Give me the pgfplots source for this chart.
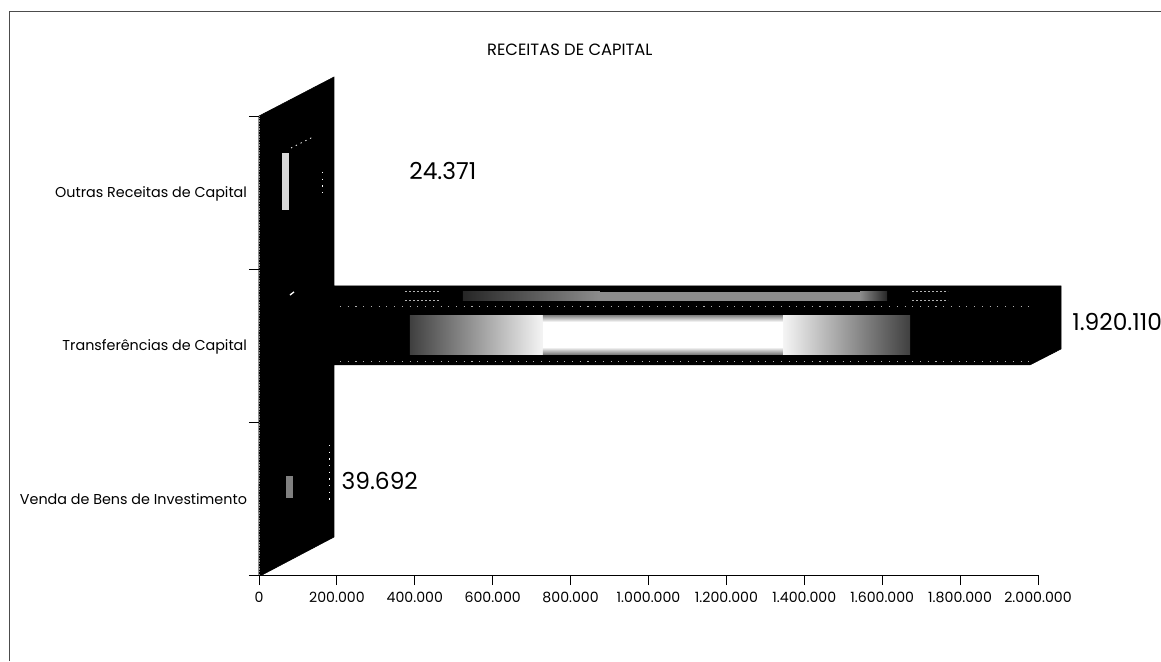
\documentclass[border=0pt]{standalone}
\usepackage{pgfplots}
\pgfplotsset{compat=1.18}
\usepackage{fontspec}
\setmainfont{Poppins}
\begin{document}
\begin{tikzpicture}[x=0.75pt,y=0.75pt]
\path[use as bounding box] (-259,-86) rectangle (902,575);
\draw[black!70,line width=0.7pt] (-250,-86) -- (-250,564) -- (902,564);
\begin{axis}[
  at={(0,0)}, anchor=origin,
  scale only axis, width=584.25pt, height=344.25pt,
  xmin=0, xmax=2000000, ymin=0, ymax=3,
  clip=false,
  axis x line*=bottom, axis y line*=left,
  axis line style={-,black,line width=0.6pt},
  tick align=outside, major tick length=7.5pt,
  tick style={black,line width=0.6pt},
  xtick={0,200000,400000,600000,800000,1000000,1200000,1400000,1600000,1800000,2000000},
  scaled x ticks=false,
  /pgf/number format/fixed,
  /pgf/number format/precision=0,
  /pgf/number format/1000 sep={.},
  /pgf/number format/assume math mode=true,
  xticklabel style={font=\fontsize{10.6pt}{12pt}\selectfont,yshift=-2pt},
  ytick={0,1,2,3}, yticklabels={,,,},
  extra y ticks={0.5,1.5,2.5},
  extra y tick labels={Venda de Bens de Investimento,Transferências de Capital,Outras Receitas de Capital},
  extra y tick style={major tick length=0pt,yticklabel style={font=\fontsize{10.75pt}{12pt}\selectfont,xshift=-5.5pt,yshift=-0.8pt}},
]
% dark block
\addplot[fill=black,draw=black,line width=0.4pt] coordinates {
 (0,3) (192555,3.255) (192555,1.889) (2059055,1.889) (2059055,1.477) (1979500,1.373)
 (192555,1.373) (192555,0.248) (7700,0) (0,0)} --cycle;
% values
\addplot[xbar,bar shift=0pt,bar width=22pt,fill=black,draw=black] coordinates {
 (39692,0.5) (1920110,1.5) (24371,2.5)};
% big highlight
\addplot[draw=none,left color=black!75,right color=black!4] coordinates {(387677,1.699) (729142,1.699) (729142,1.444) (387677,1.444)} --cycle;
\addplot[draw=none,fill=white] coordinates {(729142,1.654) (1345318,1.654) (1345318,1.490) (729142,1.490)} --cycle;
\addplot[draw=none,top color=black!50,bottom color=white] coordinates {(729142,1.699) (1345318,1.699) (1345318,1.654) (729142,1.654)} --cycle;
\addplot[draw=none,top color=white,bottom color=black!50] coordinates {(729142,1.490) (1345318,1.490) (1345318,1.444) (729142,1.444)} --cycle;
\addplot[draw=none,left color=black!4,right color=black!75] coordinates {(1345318,1.699) (1671377,1.699) (1671377,1.444) (1345318,1.444)} --cycle;
% upper band
\addplot[draw=none,left color=black!85,right color=black!45] coordinates {(523750,1.850) (875483,1.850) (875483,1.791) (523750,1.791)} --cycle;
\addplot[draw=none,fill=black!45] coordinates {(875483,1.850) (1543007,1.850) (1543007,1.791) (875483,1.791)} --cycle;
\addplot[draw=none,left color=black!45,right color=black!85] coordinates {(1543007,1.850) (1612327,1.850) (1612327,1.791) (1543007,1.791)} --cycle;
% patches in the small bars
\addplot[draw=none,fill=black!15] coordinates {(59050,2.758) (77022,2.758) (77022,2.386) (59050,2.386)} --cycle;
\addplot[draw=none,fill=black!50] coordinates {(69320,0.647) (87292,0.647) (87292,0.503) (69320,0.503)} --cycle;
% specks
\addplot[black!30,line width=0.6pt,dash pattern=on 0.8pt off 5pt] coordinates {(207959,1.758) (1979465,1.758)};
\addplot[black!30,line width=0.6pt,dash pattern=on 0.8pt off 5pt] coordinates {(207959,1.399) (1979465,1.399)};
\addplot[black!30,line width=0.6pt,dash pattern=on 1.5pt off 1.5pt] coordinates {(374840,1.856) (464700,1.856)};
\addplot[black!30,line width=0.6pt,dash pattern=on 1.5pt off 1.5pt] coordinates {(374840,1.797) (464700,1.797)};
\addplot[black!30,line width=0.6pt,dash pattern=on 1.5pt off 1.5pt] coordinates {(1676512,1.856) (1768939,1.856)};
\addplot[black!30,line width=0.6pt,dash pattern=on 1.5pt off 1.5pt] coordinates {(1676512,1.797) (1768939,1.797)};
\addplot[white,line width=0.6pt,dash pattern=on 1pt off 3pt] coordinates {(82157,2.791) (138640,2.863)};
\addplot[white,line width=0.6pt,dash pattern=on 1pt off 4pt] coordinates {(161746,2.634) (161746,2.484)};
\addplot[white,line width=0.6pt,dash pattern=on 1pt off 4pt] coordinates {(179718,0.850) (179718,0.490)};
\addplot[white,line width=1pt] coordinates {(79589,1.830) (89859,1.850)};
\addplot[black!45,line width=1pt,dash pattern=on 1pt off 1pt] coordinates {(1500,0) (1500,3)};
% texts
\node[font=\fontsize{12.25pt}{14pt}\selectfont] at (axis cs:798000,3.432) {RECEITAS DE CAPITAL};
\node[font=\fontsize{17.5pt}{19pt}\selectfont,anchor=west] at (axis cs:374000,2.64) {24.371};
\node[font=\fontsize{17.5pt}{19pt}\selectfont,anchor=west] at (axis cs:200000,0.614) {39.692};
\node[font=\fontsize{17.5pt}{19pt}\selectfont,anchor=west] at (axis cs:2076000,1.654) {1.920.110};
\end{axis}
\end{tikzpicture}
\end{document}
